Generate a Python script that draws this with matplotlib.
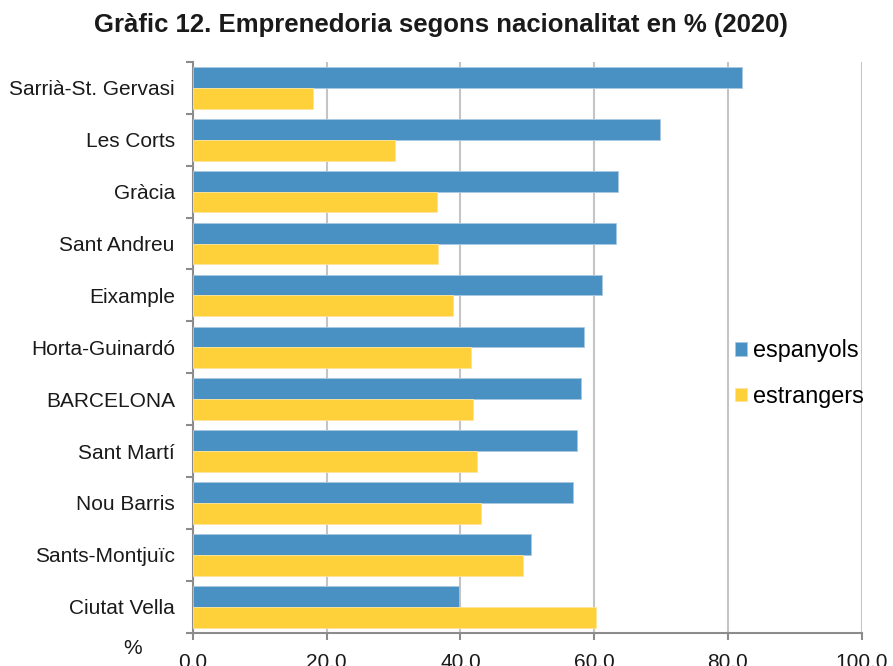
import matplotlib.pyplot as plt
import numpy as np

plt.rcParams['font.family'] = ['Liberation Sans', 'DejaVu Sans']

districts = ["Sarrià-St. Gervasi", "Les Corts", "Gràcia", "Sant Andreu", "Eixample",
             "Horta-Guinardó", "BARCELONA", "Sant Martí", "Nou Barris",
             "Sants-Montjuïc", "Ciutat Vella"]
espanyols = [82.1, 69.8, 63.5, 63.3, 61.1, 58.4, 58.1, 57.5, 56.9, 50.6, 39.8]
estrangers = [17.9, 30.2, 36.5, 36.7, 38.9, 41.6, 41.9, 42.5, 43.1, 49.4, 60.2]
x_ticks = [0, 20, 40, 60, 80, 100]

blue = "#4a91c3"
yellow = "#fed13a"
grid_grey = "#c4c4c4"
axis_grey = "#8c8c8c"
text_col = "#1a1a1a"

fig = plt.figure(figsize=(8.93, 6.66), dpi=100)
ax = fig.add_axes([0.216, 0.050, 0.749, 0.857])

y = np.arange(len(districts))
h = 0.4
ax.barh(y - h / 2, espanyols, height=h, color=blue, edgecolor="#a9c9e2", linewidth=0.6,
        label="espanyols", zorder=3)
ax.barh(y + h / 2, estrangers, height=h, color=yellow, edgecolor="#fee49a", linewidth=0.6,
        label="estrangers", zorder=3)

ax.set_xlim(0, 100)
ax.set_ylim(len(districts) - 0.5, -0.5)

ax.set_xticks(x_ticks)
ax.set_xticklabels([f"{v:.1f}".replace(".", ",") for v in x_ticks])
ax.set_yticks(y)
ax.set_yticklabels(districts)
ax.set_yticks(np.arange(len(districts) + 1) - 0.5, minor=True)

ax.tick_params(axis="y", which="major", length=0, pad=13, labelsize=15, labelcolor=text_col)
ax.tick_params(axis="y", which="minor", length=5, width=1.5, color=axis_grey)
ax.tick_params(axis="x", length=5, width=1.5, color=axis_grey, labelsize=15,
               labelcolor=text_col, pad=9)

ax.grid(axis="x", color=grid_grey, linewidth=1.5, zorder=0)
for side in ["top", "right"]:
    ax.spines[side].set_visible(False)
for side in ["left", "bottom"]:
    ax.spines[side].set_color(axis_grey)
    ax.spines[side].set_linewidth(1.5)

fig.text(0.494, 0.962, "Gràfic 12. Emprenedoria segons nacionalitat en % (2020)",
         fontsize=18.5, fontweight="bold", ha="center", va="center", color=text_col)
fig.text(0.148, 0.026, "%", fontsize=15, color=text_col, ha="center", va="center")

ax.legend(loc="center left", bbox_to_anchor=(0.81, 0.454), frameon=False, fontsize=16.8,
          handlelength=0.52, handleheight=0.52, handletextpad=0.25, labelspacing=0.95,
          borderaxespad=0, borderpad=0)

fig.savefig("out.png", dpi=100)
